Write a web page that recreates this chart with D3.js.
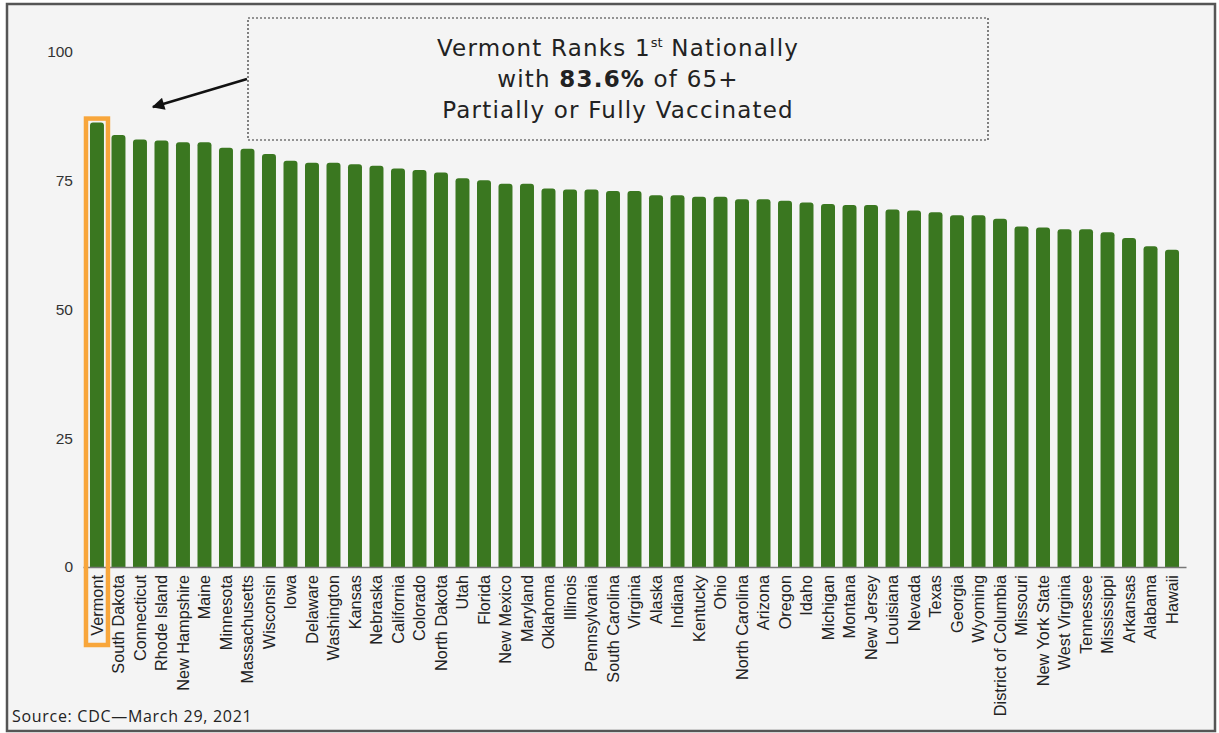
<!DOCTYPE html>
<meta charset="utf-8">
<style>
  body { margin: 0; background: #fff; }
</style>
<body>

<div class="chart"></div>

<!-- load the d3.js library -->
<script src="https://d3js.org/d3.v7.min.js"></script>

<script>

// the data
var states = ["Vermont", "South Dakota", "Connecticut", "Rhode Island", "New Hampshire",
  "Maine", "Minnesota", "Massachusetts", "Wisconsin", "Iowa", "Delaware", "Washington",
  "Kansas", "Nebraska", "California", "Colorado", "North Dakota", "Utah", "Florida",
  "New Mexico", "Maryland", "Oklahoma", "Illinois", "Pennsylvania", "South Carolina",
  "Virginia", "Alaska", "Indiana", "Kentucky", "Ohio", "North Carolina", "Arizona",
  "Oregon", "Idaho", "Michigan", "Montana", "New Jersey", "Louisiana", "Nevada", "Texas",
  "Georgia", "Wyoming", "District of Columbia", "Missouri", "New York State",
  "West Virginia", "Tennessee", "Mississippi", "Arkansas", "Alabama", "Hawaii"];

var values = [86.3, 83.9, 83.0, 82.8, 82.5, 82.5, 81.4, 81.2, 80.2, 78.9, 78.5, 78.5,
  78.2, 77.9, 77.4, 77.1, 76.6, 75.5, 75.1, 74.4, 74.4, 73.5, 73.3, 73.3, 73.0,
  73.0, 72.2, 72.2, 71.9, 71.9, 71.4, 71.4, 71.1, 70.8, 70.5, 70.3, 70.3, 69.4, 69.2, 68.9,
  68.3, 68.3, 67.6, 66.1, 65.9, 65.6, 65.6, 65.0, 63.9, 62.3, 61.6];

var yTicks = [0, 25, 50, 75, 100];

var width = 1219,
    height = 733;

var svg = d3.select(".chart").append("svg")
    .attr("width", width)
    .attr("height", height);

// frame + background
svg.append("rect")
    .attr("x", 7)
    .attr("y", 4)
    .attr("width", 1208)
    .attr("height", 727)
    .style("fill", "#f4f4f4")
    .style("stroke", "#555")
    .style("stroke-width", 2.5);

// set the ranges
var x = d3.scaleBand()
    .domain(states)
    .range([83, 1186])
    .paddingInner(0.35)
    .paddingOuter(0.325);

var y = d3.scaleLinear()
    .domain([0, 100])
    .range([567, 52]);

// bar with rounded top corners
function barPath(d, i) {
  var x0 = x(states[i]), w = x.bandwidth(), y0 = y(0), y1 = y(d), r = 3;
  return "M" + x0 + "," + y0 +
    "V" + (y1 + r) +
    "Q" + x0 + "," + y1 + " " + (x0 + r) + "," + y1 +
    "H" + (x0 + w - r) +
    "Q" + (x0 + w) + "," + y1 + " " + (x0 + w) + "," + (y1 + r) +
    "V" + y0 + "Z";
}

svg.selectAll(".bar")
    .data(values)
  .enter().append("path")
    .attr("class", "bar")
    .attr("d", barPath)
    .style("fill", "#3a7720");

// Y axis, labels only
var yAxis = svg.append("g")
    .attr("transform", "translate(83,0)")
    .call(d3.axisLeft(y).tickValues(yTicks).tickSize(0).tickPadding(10));
yAxis.select(".domain").remove();
yAxis.selectAll("text")
    .style("font-family", "'Liberation Sans', Arial, sans-serif")
    .style("font-size", "15.5px")
    .style("fill", "#333");

// X axis with rotated state names
var xAxis = svg.append("g")
    .attr("transform", "translate(0," + y(0) + ")")
    .call(d3.axisBottom(x).tickSize(0));
xAxis.select(".domain")
    .style("stroke", "#777")
    .style("stroke-width", 1.5);
xAxis.selectAll("text")
    .attr("transform", "rotate(-90)")
    .attr("x", -8)
    .attr("y", 0)
    .attr("dy", "0.35em")
    .style("text-anchor", "end")
    .style("font-family", "'Liberation Sans', Arial, sans-serif")
    .style("font-size", "16.3px")
    .style("fill", "#222");

// orange highlight round Vermont
svg.append("rect")
    .attr("x", x(states[0]) - 4)
    .attr("y", y(values[0]) - 4)
    .attr("width", x.bandwidth() + 8)
    .attr("height", 645 - (y(values[0]) - 4))
    .style("fill", "none")
    .style("stroke", "#f8a63b")
    .style("stroke-width", 4.5);

// annotation box
svg.append("rect")
    .attr("x", 248)
    .attr("y", 18)
    .attr("width", 740)
    .attr("height", 122)
    .style("fill", "none")
    .style("stroke", "#333")
    .style("stroke-width", 1.2)
    .style("stroke-dasharray", "2,2");

// arrow
svg.append("defs").append("marker")
    .attr("id", "arrowhead")
    .attr("viewBox", "0 0 10 10")
    .attr("refX", 9)
    .attr("refY", 5)
    .attr("markerWidth", 6)
    .attr("markerHeight", 5)
    .attr("orient", "auto")
  .append("path")
    .attr("d", "M0,0L10,5L0,10Z")
    .style("fill", "#111");

svg.append("line")
    .attr("x1", 247)
    .attr("y1", 79)
    .attr("x2", 153)
    .attr("y2", 107)
    .style("stroke", "#111")
    .style("stroke-width", 2.5)
    .attr("marker-end", "url(#arrowhead)");

// annotation text, one text element per line
function noteLine(yPos) {
  return svg.append("text")
      .attr("x", 618)
      .attr("y", yPos)
      .attr("text-anchor", "middle")
      .style("font-family", "'DejaVu Sans', sans-serif")
      .style("font-size", "23px")
      .style("letter-spacing", "1.2px")
      .style("fill", "#222");
}

var l1 = noteLine(56);
l1.append("tspan").text("Vermont Ranks 1");
l1.append("tspan").attr("dy", -9).style("font-size", "13px").style("letter-spacing", "0px").text("st");
l1.append("tspan").attr("dy", 9).text(" Nationally");

var l2 = noteLine(87);
l2.append("tspan").text("with ");
l2.append("tspan").style("font-weight", "bold").text("83.6%");
l2.append("tspan").text(" of 65+");

noteLine(118).text("Partially or Fully Vaccinated");

// source
svg.append("text")
    .attr("x", 12)
    .attr("y", 722)
    .style("font-family", "'Open Sans', sans-serif")
    .style("font-size", "16px")
    .style("letter-spacing", "0.7px")
    .style("fill", "#222")
    .text("Source: CDC\u2014March 29, 2021");

</script>

</body>
